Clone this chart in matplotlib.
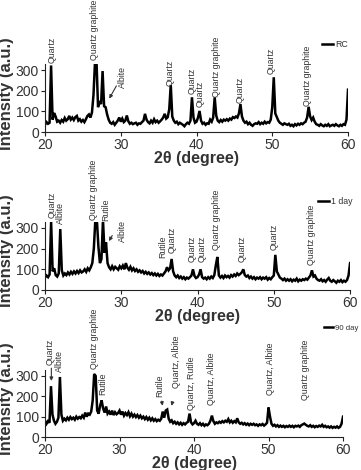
import numpy as np
import matplotlib
matplotlib.use("Agg")
import matplotlib.pyplot as plt

plt.rcParams['font.family'] = ['Liberation Sans', 'DejaVu Sans']

# 2-theta sampling grid (degrees)
two_theta = np.linspace(20, 60, 201)

rc = [
    35, 48, 40, 45, 322, 60, 92, 75, 50, 55,
    45, 58, 50, 68, 55, 62, 78, 60, 70, 58,
    72, 78, 55, 62, 50, 58, 48, 62, 78, 85,
    70, 95, 180, 340, 340, 120, 150, 135, 295, 125,
    120, 85, 60, 45, 40, 48, 35, 45, 55, 70,
    50, 65, 48, 55, 80, 52, 40, 45, 38, 42,
    45, 35, 42, 40, 48, 55, 88, 60, 48, 42,
    55, 45, 62, 48, 55, 45, 52, 60, 70, 88,
    65, 72, 110, 228, 75, 55, 45, 50, 38, 45,
    40, 35, 28, 38, 45, 40, 55, 168, 70, 45,
    50, 70, 102, 55, 40, 45, 35, 42, 40, 60,
    50, 70, 168, 80, 55, 48, 58, 50, 60, 55,
    62, 55, 65, 60, 72, 68, 75, 70, 90, 135,
    75, 55, 45, 50, 38, 45, 35, 30, 38, 42,
    40, 48, 38, 45, 40, 50, 42, 48, 45, 60,
    120, 265, 90, 72, 55, 45, 40, 35, 42, 38,
    35, 40, 30, 35, 28, 38, 32, 40, 35, 42,
    38, 45, 50, 70, 122, 75, 58, 70, 50, 38,
    35, 30, 38, 32, 28, 35, 30, 38, 28, 32,
    35, 30, 38, 32, 28, 35, 30, 38, 35, 60,
    205,
]

day1 = [
    60, 70, 62, 75, 330, 90, 105, 72, 65, 80,
    295, 95, 70, 80, 72, 85, 75, 88, 78, 90,
    80, 92, 82, 95, 85, 90, 100, 88, 105, 95,
    110, 130, 200, 340, 340, 210, 130, 150, 340, 180,
    230, 130, 110, 100, 115, 100, 112, 105, 98, 115,
    105, 118, 100, 130, 108, 98, 112, 95, 105, 92,
    100, 88, 95, 85, 92, 80, 88, 78, 85, 75,
    82, 72, 80, 70, 78, 68, 75, 70, 80, 90,
    110, 95, 105, 150, 90, 70, 62, 70, 58, 65,
    55, 62, 52, 60, 55, 62, 70, 100, 68, 58,
    62, 75, 100, 62, 55, 60, 52, 62, 55, 65,
    58, 72, 120, 160, 70, 60, 68, 58, 70, 62,
    68, 60, 72, 65, 75, 68, 80, 72, 78, 85,
    100, 72, 65, 70, 58, 65, 55, 62, 52, 60,
    55, 62, 52, 60, 55, 62, 50, 58, 52, 62,
    70, 170, 90, 75, 60, 55, 48, 55, 45, 52,
    45, 52, 42, 50, 45, 55, 42, 50, 45, 52,
    48, 55, 50, 60, 70, 95, 65, 70, 55, 48,
    45, 52, 42, 48, 40, 50, 58, 45, 40, 48,
    42, 35, 45, 40, 48, 38, 45, 40, 48, 70,
    130,
]

day90 = [
    80, 65, 78, 70, 250, 110, 80, 65, 75, 95,
    295, 110, 80, 90, 82, 95, 85, 98, 88, 95,
    85, 100, 90, 98, 92, 105, 95, 120, 100, 115,
    110, 125, 180, 310, 300, 130, 115, 155, 180, 140,
    120, 150, 115, 125, 110, 130, 108, 122, 112, 118,
    130, 110, 125, 105, 118, 108, 122, 102, 115, 100,
    110, 98, 108, 95, 105, 92, 100, 88, 98, 85,
    95, 82, 92, 80, 88, 78, 85, 80, 90, 125,
    95, 130, 135, 90, 75, 82, 68, 75, 65, 72,
    62, 70, 60, 68, 62, 70, 75, 115, 72, 62,
    68, 80, 65, 60, 68, 58, 65, 55, 62, 58,
    65, 80, 105, 78, 65, 72, 68, 75, 70, 78,
    72, 80, 75, 88, 72, 80, 70, 78, 72, 92,
    72, 65, 70, 62, 68, 60, 66, 58, 65, 60,
    65, 58, 62, 55, 62, 58, 64, 56, 62, 70,
    145, 100, 65, 55, 60, 52, 58, 50, 56, 50,
    55, 48, 54, 50, 56, 50, 55, 48, 55, 52,
    56, 50, 58, 62, 66, 60, 55, 52, 58, 50,
    55, 48, 54, 50, 56, 52, 60, 50, 55, 48,
    52, 46, 52, 45, 50, 46, 52, 45, 50, 65,
    100,
]

series = [rc, day1, day90]
series_names = ["RC", "1 day", "90 day"]
x_ticks = [20, 30, 40, 50, 60]
y_ticks = [0, 100, 200, 300]

# peak labels: (text, 2theta, label base)
labels_rc = [
    ("Quartz", 20.92, 334), ("Quartz graphite", 26.47, 348),
    ("Albite", 30.17, 213), ("Quartz", 36.5, 223), ("Quartz", 39.4, 184),
    ("Quartz", 40.5, 121), ("Quartz graphite", 42.6, 170),
    ("Quartz", 45.7, 140), ("Quartz", 49.9, 281),
    ("Quartz graphite", 54.7, 126),
]
labels_day1 = [
    ("Quartz", 20.9, 348), ("Albite", 22.05, 320),
    ("Quartz graphite", 26.4, 339), ("Rutile", 28.0, 334),
    ("Albite", 30.1, 232), ("Rutile", 35.5, 155), ("Quartz", 36.7, 179),
    ("Quartz", 39.3, 136), ("Quartz", 40.6, 136),
    ("Quartz graphite", 42.5, 194), ("Quartz", 45.8, 136),
    ("Quartz", 50.1, 194), ("Quartz graphite", 54.9, 121),
]
labels_day90 = [
    ("Quartz", 20.75, 354), ("Albite", 22.0, 320),
    ("Quartz graphite", 26.6, 334), ("Rutile", 27.8, 207),
    ("Rutile", 35.4, 197), ("Quartz, Albite", 37.6, 241),
    ("Quartz, Rutile", 39.6, 133), ("Quartz, Albite", 42.4, 157),
    ("Quartz, Albite", 50.3, 207), ("Quartz graphite", 55.0, 182),
]
all_labels = [labels_rc, labels_day1, labels_day90]

# arrows: (tail x, tail y, head x, head y)
arrows_rc = [(29.6, 235, 28.3, 150)]
arrows_day1 = [(29.0, 275, 28.2, 225)]
arrows_day90 = [(20.85, 352, 20.85, 262), (35.6, 190, 35.85, 140),
                (37.2, 185, 36.9, 140)]
all_arrows = [arrows_rc, arrows_day1, arrows_day90]

axes_rects = [
    [0.1247, 0.7191, 0.8393, 0.1451],
    [0.1247, 0.3830, 0.8450, 0.1451],
    [0.1247, 0.0702, 0.8255, 0.1428],
]
legend_anchor = [(0.915, 1.28), (0.895, 1.30), (0.935, 1.62)]
legend_size = [6.3, 6.3, 5.6]

fig = plt.figure(figsize=(3.61, 4.70), dpi=100)
txt_col = "#333333"

for i in range(3):
    ax = fig.add_axes(axes_rects[i])
    ax.plot(two_theta, series[i], color="black", lw=1.8,
            solid_joinstyle="miter", label=series_names[i])
    ax.set_xlim(20, 60)
    ax.set_ylim(0, 330)
    ax.set_xticks(x_ticks)
    ax.set_yticks(y_ticks)
    for s in ["top", "right"]:
        ax.spines[s].set_visible(False)
    for s in ["left", "bottom"]:
        ax.spines[s].set_color("#222222")
        ax.spines[s].set_linewidth(0.8)
    ax.tick_params(axis="both", labelsize=10, colors="#222222",
                   labelcolor=txt_col, length=3, width=0.8, pad=1.5)
    ax.set_xlabel("2θ (degree)", fontsize=11.5, fontweight="bold",
                  color=txt_col, labelpad=-1)
    ax.set_ylabel("Intensity (a.u.)", fontsize=12, fontweight="bold",
                  color=txt_col)
    ax.yaxis.set_label_transform = None
    # place ylabel at a fixed pixel offset left of each axes
    ax.yaxis.set_label_coords(-31.0 / (axes_rects[i][2] * 361), 0.57)
    for (t, x, y) in all_labels[i]:
        ax.text(x, y, t, rotation=90, ha="center", va="bottom",
                fontsize=6.3, color=txt_col, clip_on=False)
    for (x0, y0, x1, y1) in all_arrows[i]:
        ax.annotate("", xy=(x1, y1), xytext=(x0, y0),
                    arrowprops=dict(arrowstyle="-|>", color="#333333",
                                    lw=0.8, mutation_scale=5),
                    annotation_clip=False)
    leg = ax.legend(loc="center left", bbox_to_anchor=legend_anchor[i],
                    frameon=False, fontsize=legend_size[i], handlelength=1.2,
                    handletextpad=0.25, borderpad=0, borderaxespad=0)
    for t in leg.get_texts():
        t.set_color(txt_col)

fig.savefig("out.png", dpi=100)
